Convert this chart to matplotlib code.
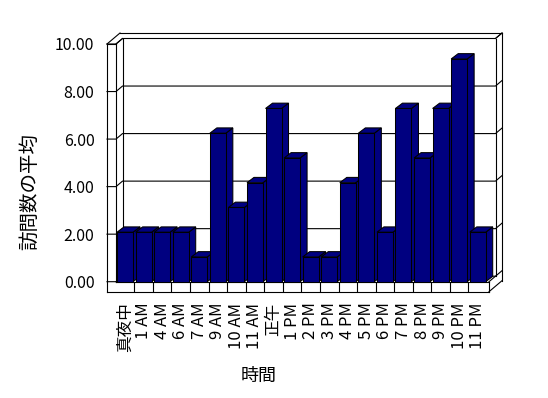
import matplotlib
matplotlib.use('Agg')
import matplotlib.pyplot as plt
from matplotlib.patches import Polygon

hours = ['真夜中', '1 AM', '4 AM', '6 AM', '7 AM', '9 AM', '10 AM', '11 AM', '正午',
         '1 PM', '2 PM', '3 PM', '4 PM', '5 PM', '6 PM', '7 PM', '8 PM', '9 PM',
         '10 PM', '11 PM']
visits = [2, 2, 2, 2, 1, 6, 3, 4, 7, 5, 1, 1, 4, 6, 2, 7, 5, 7, 9, 2]
yticks = [0, 2, 4, 6, 8, 10]

plt.rcParams['font.family'] = ['Noto Sans CJK JP', 'DejaVu Sans']

W, H = 548, 398
fig = plt.figure(figsize=(W / 100, H / 100), dpi=100)
fig.patch.set_facecolor('white')


def box(l, t, r, b):
    # pixel box -> figure fraction
    return [l / W, 1 - b / H, (r - l) / W, (b - t) / H]


# walls / floor geometry (pixels)
LX, IX, RX = 107, 116, 489      # left wall front, left wall inner, right end
TOP, FT, FB = 44, 281.7, 291.7  # wall top, floor top, floor bottom
DX, DY = 6.5, 5.5               # depth offset
K = (FT - TOP) / 10             # px per unit on the front


def yf(v):
    return FT - v * K


fr = fig.add_axes([0, 0, 1, 1])
fr.set_xlim(0, W)
fr.set_ylim(H, 0)
fr.axis('off')

segs = [
    [(LX, TOP), (LX, FB)], [(IX, TOP), (IX, FT)], [(LX, TOP), (IX, TOP)],
    [(LX, TOP), (LX + 2 * DX, TOP - 2 * DY)], [(IX, TOP), (IX + DX, TOP - DY)],
    [(IX + DX, TOP - DY), (IX + DX, FT - DY)],
    [(LX + 2 * DX, TOP - 2 * DY), (RX + 2 * DX, TOP - 2 * DY)],
    [(RX + DX, TOP - DY), (RX + DX, FT - DY)],
    [(RX + DX, TOP - DY), (RX + 2 * DX, TOP - 2 * DY)],
    [(RX + 2 * DX, TOP - 2 * DY), (RX + 2 * DX, FB - 2 * DY)],
    [(IX, FT), (RX, FT)], [(LX, FB), (RX, FB)], [(RX, FT), (RX, FB)],
    [(RX, FB), (RX + 2 * DX, FB - 2 * DY)], [(RX, FT), (RX + DX, FT - DY)],
    [(IX, FT), (IX + DX, FT - DY)],
]
for s in segs:
    fr.plot([s[0][0], s[1][0]], [s[0][1], s[1][1]], color='black', lw=0.8)

# gridlines on the back wall plus their ticks on the side walls
for v in yticks:
    y = yf(v)
    fr.plot([LX, IX, IX + DX, RX + DX, RX + 2 * DX],
            [y, y, y - DY, y - DY, y - 2 * DY], color='black', lw=0.8)

# y tick labels on the front of the left wall
axf = fig.add_axes(box(LX, TOP, IX, FT))
axf.set_ylim(0, 10)
axf.set_yticks(yticks)
axf.set_yticklabels(['%.2f' % v for v in yticks], fontsize=11.5)
axf.tick_params(axis='y', length=0, pad=9)
axf.set_xticks([])
axf.patch.set_visible(False)
for sp in axf.spines.values():
    sp.set_visible(False)

# bars
n = len(visits)
ax = fig.add_axes(box(115.75, FT - 10 * 24.75, 487, FT))
ax.set_xlim(-0.5, n - 0.5)
ax.set_ylim(0, 10)
ax.patch.set_visible(False)
for sp in ax.spines.values():
    sp.set_visible(False)

bars = ax.bar(range(n), visits, width=0.86, color='#000080',
              edgecolor='black', lw=0.75, clip_on=False)
bdx, bdy = 7 / 18.56, 5.3 / 24.75
for i, b in enumerate(bars):
    l, w, h = b.get_x(), b.get_width(), b.get_height()
    r = l + w
    side = Polygon([(r, 0), (r, h), (r + bdx, h + bdy), (r + bdx, bdy)],
                   closed=True, fc='#000080', ec='black', lw=0.75, clip_on=False)
    top = Polygon([(l, h), (r, h), (r + bdx, h + bdy), (l + bdx, h + bdy)],
                  closed=True, fc='#000080', ec='black', lw=0.75, clip_on=False)
    ax.add_patch(side)
    ax.add_patch(top)
    side.set_zorder(2 + 2 * i)
    top.set_zorder(2 + 2 * i)
    b.set_zorder(3 + 2 * i)

ax.set_yticks([])
ax.set_xticks(range(n))
ax.set_xticklabels(hours, rotation=90, fontsize=12)
ax.tick_params(axis='x', which='major', length=0, pad=15)
ax.set_xticks([i + 0.5 for i in range(n - 1)], minor=True)
ax.tick_params(axis='x', which='minor', direction='out', length=7.2,
               width=0.8, color='black')

fr.text(30, 192, '訪問数の平均', rotation=90, ha='center', va='center', fontsize=14)
fr.text(259, 376, '時間', ha='center', va='center', fontsize=13)

fig.savefig('out.png', dpi=100, facecolor='white')
